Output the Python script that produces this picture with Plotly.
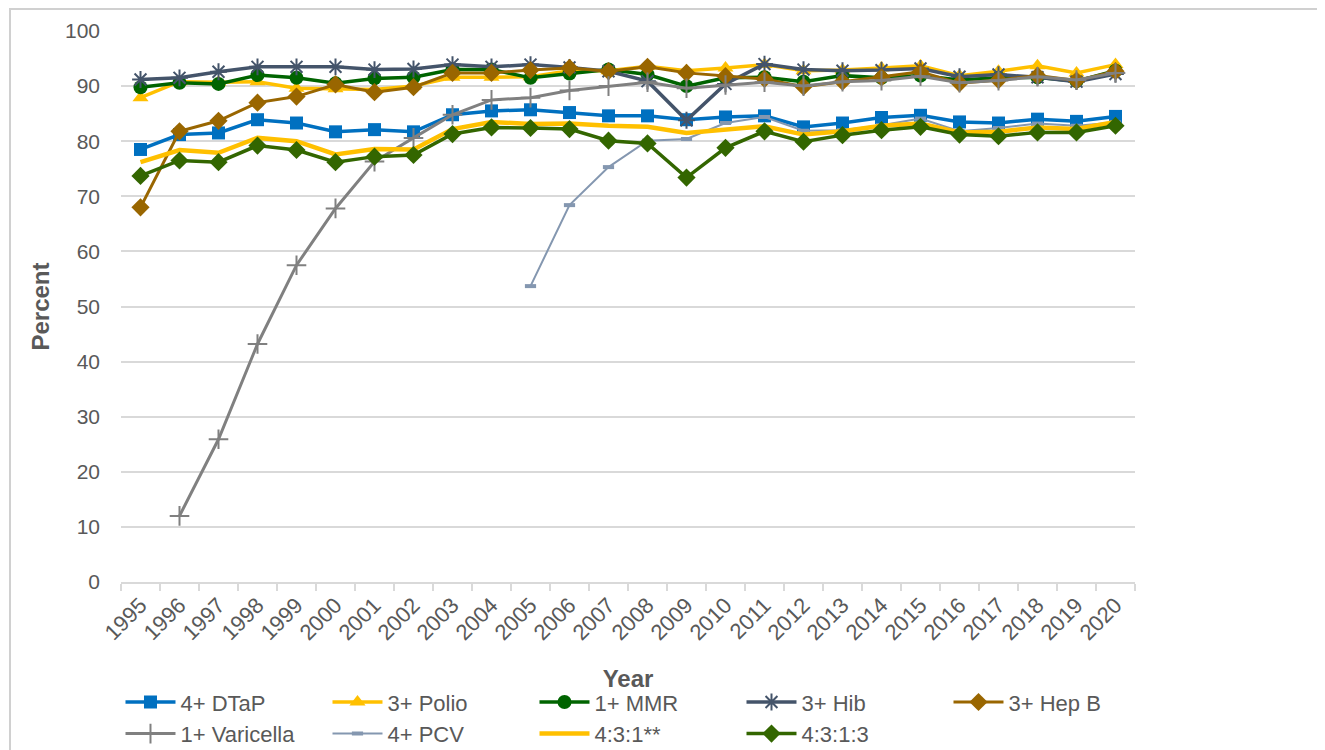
import plotly.graph_objects as go

years = [str(y) for y in range(1995, 2021)]

dtap = [78.5, 81.2, 81.5, 83.9, 83.3, 81.7, 82.1, 81.7, 84.8, 85.5, 85.7, 85.2, 84.6,
        84.6, 83.9, 84.4, 84.6, 82.6, 83.3, 84.3, 84.7, 83.5, 83.3, 84.0, 83.6, 84.5]
polio = [87.9, 90.8, 90.7, 90.8, 89.6, 89.5, 89.4, 90.0, 91.6, 91.6, 91.7, 92.8, 92.8,
         93.6, 92.8, 93.3, 93.9, 92.8, 92.9, 93.3, 93.7, 91.9, 92.7, 93.7, 92.4, 93.9]
mmr = [89.8, 90.6, 90.4, 92.0, 91.5, 90.5, 91.4, 91.6, 93.0, 93.0, 91.5, 92.3, 93.0,
       92.1, 90.0, 91.5, 91.6, 90.8, 91.9, 91.5, 91.9, 91.1, 91.5, 91.6, 90.9, 92.8]
hib = [91.2, 91.5, 92.6, 93.5, 93.5, 93.5, 93.0, 93.1, 93.9, 93.5, 93.9, 93.4, 92.7,
       90.9, 83.8, 90.4, 94.0, 93.0, 92.8, 92.9, 93.2, 91.7, 92.1, 91.6, 90.8, 92.2]
hepb = [68.0, 81.8, 83.7, 87.0, 88.1, 90.3, 88.9, 89.8, 92.4, 92.4, 92.9, 93.3, 92.7,
        93.5, 92.4, 91.8, 91.3, 89.9, 90.8, 91.6, 92.6, 90.5, 91.1, 91.9, 91.0, 92.7]
varicella = [None, 12.0, 25.9, 43.2, 57.5, 67.8, 76.3, 80.6, 84.8, 87.5, 87.9, 89.2, 90.0,
             90.7, 89.6, 90.2, 90.7, 90.0, 90.8, 91.0, 91.8, 90.6, 91.0, 91.7, 91.1, 92.4]
pcv = [None, None, None, None, None, None, None, None, None, None, 53.7, 68.4, 75.3,
       80.1, 80.4, 83.3, 84.4, 81.9, 82.0, 82.9, 84.1, 81.8, 82.4, 83.2, 82.8, 83.4]
s431 = [76.2, 78.4, 77.9, 80.6, 80.0, 77.6, 78.6, 78.5, 82.2, 83.5, 83.1, 83.2, 82.8,
        82.6, 81.5, 82.0, 82.7, 81.2, 81.8, 82.8, 83.2, 81.6, 81.7, 82.5, 82.2, 83.5]
s4313 = [73.7, 76.5, 76.2, 79.2, 78.4, 76.2, 77.2, 77.5, 81.3, 82.5, 82.4, 82.2, 80.1,
         79.6, 73.4, 78.8, 81.8, 79.9, 81.1, 82.0, 82.6, 81.2, 80.9, 81.6, 81.6, 82.8]

series = [
    ("4+ DTaP", dtap, "#0070C0", 3.5, dict(symbol="square", size=13)),
    ("3+ Polio", polio, "#FFC000", 3.5, dict(symbol="triangle-up", size=14)),
    ("1+ MMR", mmr, "#006400", 3.5, dict(symbol="circle", size=14)),
    ("3+ Hib", hib, "#44546A", 3.5, dict(symbol="asterisk-open", size=14, line=dict(width=2, color="#44546A"))),
    ("3+ Hep B", hepb, "#996600", 3, dict(symbol="diamond", size=14)),
    ("1+ Varicella", varicella, "#808080", 3, dict(symbol="cross-thin-open", size=14, line=dict(width=2, color="#808080"))),
    ("4+ PCV", pcv, "#8497B0", 2, dict(symbol="line-ew-open", size=8, line=dict(width=4, color="#8497B0"))),
    ("4:3:1**", s431, "#FFC000", 4.5, None),
    ("4:3:1:3", s4313, "#336600", 3.5, dict(symbol="diamond", size=14)),
]

fig = go.Figure()
for name, vals, color, lw, mk in series:
    kw = dict(x=years, y=vals, name=name, line=dict(color=color, width=lw))
    if mk is None:
        kw["mode"] = "lines"
    else:
        m = dict(mk)
        m.setdefault("color", color)
        kw["mode"] = "lines+markers"
        kw["marker"] = m
    fig.add_trace(go.Scatter(**kw))

# page body has an 8px margin: offsets compensate so the plot area lands at x 121-1135, y 31-582
fig.update_layout(
    width=1325, height=750,
    margin=dict(l=113, r=198, t=23, b=176, autoexpand=False),
    paper_bgcolor="white", plot_bgcolor="white",
    font=dict(family="Liberation Sans, Arial, sans-serif", color="#595959", size=21),
    showlegend=True,
    legend=dict(orientation="h", x=-0.0005, xanchor="left", y=-0.18, yanchor="top",
                font=dict(size=22, color="#595959"), itemwidth=50,
                entrywidth=142, entrywidthmode="pixels", traceorder="normal"),
    shapes=[dict(type="rect", xref="paper", yref="paper",
                 x0=(10 - 121) / 1014, x1=(1318 - 121) / 1014,
                 y0=-0.5, y1=(582 - 9) / 551,
                 line=dict(color="#D0D0D0", width=2), layer="below")],
)
fig.update_xaxes(type="category", range=[-0.5, 25.5], tickson="boundaries", ticks="outside",
                 ticklen=7, tickcolor="#D9D9D9", tickwidth=1.5, showline=True,
                 linecolor="#D9D9D9", linewidth=1.5, showgrid=False, tickangle=-45,
                 automargin=False, tickfont=dict(size=22, color="#595959"),
                 title=dict(text="<b>Year</b>", font=dict(size=24, color="#595959"), standoff=26))
fig.update_yaxes(range=[0, 100], dtick=10, showgrid=True, gridcolor="#D9D9D9", gridwidth=1.5,
                 zeroline=False, showline=False, ticks="", automargin=False,
                 ticklabelstandoff=20,
                 tickfont=dict(size=21, color="#595959"),
                 title=dict(text="<b>Percent</b>", font=dict(size=24, color="#595959"), standoff=8))

fig.write_html("out.html")
